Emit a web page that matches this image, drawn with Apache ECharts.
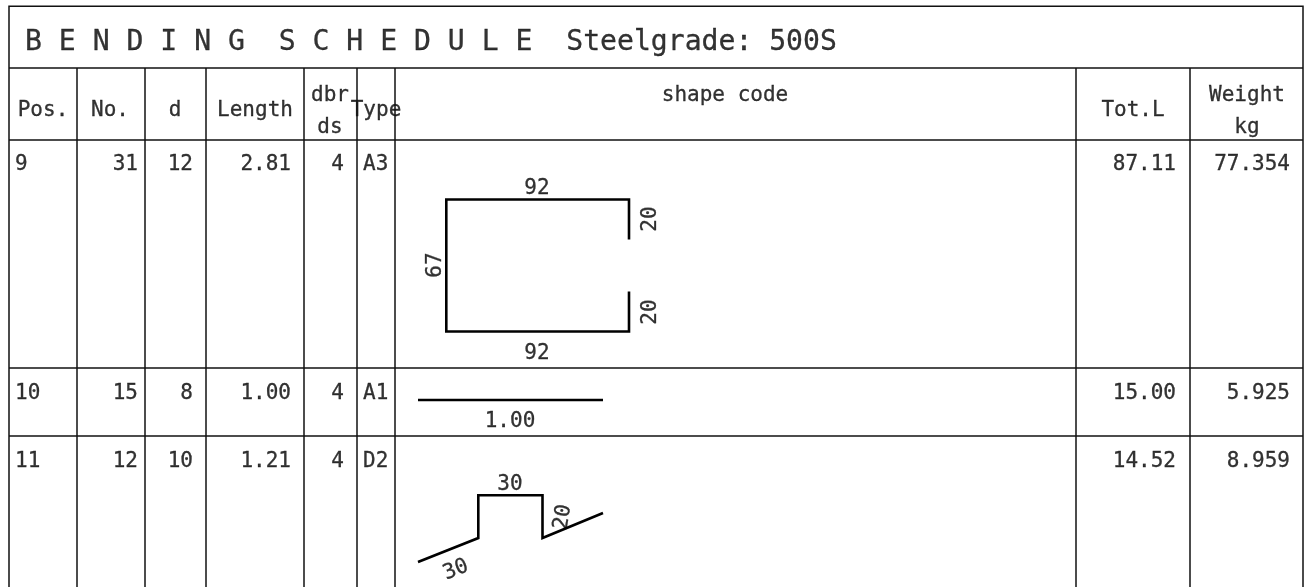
<!DOCTYPE html>
<html>
<head>
<meta charset="utf-8">
<title>Bending schedule</title>
<script src="https://cdn.jsdelivr.net/npm/echarts@6/dist/echarts.min.js"></script>
<style>
    html, body { margin: 0; padding: 0; background: #fff; }
    #chart { width: 1305px; height: 587px; }
</style>
</head>
<body>
<div id="chart"></div>
<script>
// table rules, in drawing units (1 unit = 1 px of the sheet)
const columnEdges = [77, 145, 206, 304, 357, 395, 1076, 1190];
const rowEdges = [68, 140, 368, 436];
const sheet = { left: 9, right: 1303, top: 6.25, bottom: 587 };

// [text, x, y, align]
const titleText = [['B E N D I N G  S C H E D U L E  Steelgrade: 500S', 25, 43, 'left']];
const headerText = [
    ['Pos.', 43, 111, 'center'], ['No.', 110, 111, 'center'], ['d', 175, 111, 'center'],
    ['Length', 255, 111, 'center'], ['dbr', 330, 96, 'center'], ['ds', 330, 128, 'center'],
    ['Type', 376, 111, 'center'], ['shape code', 725, 96, 'center'], ['Tot.L', 1133, 111, 'center'],
    ['Weight', 1247, 96, 'center'], ['kg', 1247, 128, 'center']
];

const rowY = [165, 394, 462];
const posValues = ['9', '10', '11'];
const noValues = ['31', '15', '12'];
const dValues = ['12', '8', '10'];
const lengthValues = ['2.81', '1.00', '1.21'];
const dbrValues = ['4', '4', '4'];
const typeValues = ['A3', 'A1', 'D2'];
const totalValues = ['87.11', '15.00', '14.52'];
const weightValues = ['77.354', '5.925', '8.959'];

// bent bar outlines
const shapeA3 = [
    [[629, 239.5], [629, 199.5], [446.3, 199.5], [446.3, 331.5], [629, 331.5], [629, 291.5]]
];
const shapeA1 = [
    [[418, 400], [603, 400]]
];
const shapeD2 = [
    [[418, 562], [478.3, 538], [478.3, 495.2], [542.5, 495.2], [542.5, 538], [603, 513]]
];

// [text, x, y, rotate]
const dimensionText = [
    ['92', 537, 189, 0], ['92', 537, 354, 0], ['20', 651, 219, 90], ['20', 651, 312, 90], ['67', 436, 265, 90],
    ['1.00', 510, 422, 0],
    ['30', 510, 485, 0], ['20', 563, 517, 80], ['30', 456, 570, 22]
];

const FONT = '"DejaVu Sans Mono", monospace';
const RULE = '#111';

function lineSeries(points, width, color) {
    return {
        type: 'line',
        data: points,
        showSymbol: false,
        silent: true,
        animation: false,
        clip: false,
        lineStyle: { width: width, color: color, cap: 'butt', join: 'miter' }
    };
}

function textSeries(rows, size) {
    return {
        type: 'scatter',
        symbolSize: 0,
        silent: true,
        animation: false,
        clip: false,
        data: rows.map(r => ({
            value: [r[1], r[2]],
            label: {
                show: true,
                position: 'inside',
                formatter: () => r[0],
                align: typeof r[3] === 'string' ? r[3] : 'center',
                verticalAlign: 'middle',
                rotate: typeof r[3] === 'number' ? r[3] : 0,
                fontFamily: FONT,
                fontSize: size,
                color: '#000',
                textBorderColor: '#000',
                textBorderWidth: 0.3
            }
        }))
    };
}

// body cells come from the column arrays
const bodyText = [];
rowY.forEach((y, i) => {
    bodyText.push([posValues[i], 15, y, 'left']);
    bodyText.push([noValues[i], 138, y, 'right']);
    bodyText.push([dValues[i], 193, y, 'right']);
    bodyText.push([lengthValues[i], 291, y, 'right']);
    bodyText.push([dbrValues[i], 344, y, 'right']);
    bodyText.push([typeValues[i], 363, y, 'left']);
    bodyText.push([totalValues[i], 1176, y, 'right']);
    bodyText.push([weightValues[i], 1290, y, 'right']);
});

const series = [];
series.push(lineSeries([[sheet.left, sheet.bottom], [sheet.left, sheet.top], [sheet.right, sheet.top], [sheet.right, sheet.bottom]], 1.5, RULE));
rowEdges.forEach(y => series.push(lineSeries([[sheet.left, y], [sheet.right, y]], 1.5, RULE)));
columnEdges.forEach(x => series.push(lineSeries([[x, rowEdges[0]], [x, sheet.bottom]], 1.5, RULE)));
[shapeA3, shapeA1, shapeD2].forEach(shape => {
    shape.forEach(path => series.push(lineSeries(path, 2.6, '#000')));
});
series.push(textSeries(titleText, 28.1));
series.push(textSeries(headerText, 21));
series.push(textSeries(bodyText, 21));
series.push(textSeries(dimensionText, 21));

const myChart = echarts.init(document.getElementById('chart'));
myChart.setOption({
    backgroundColor: '#fff',
    animation: false,
    grid: { left: 0, right: 0, top: 0, bottom: 0 },
    xAxis: { type: 'value', min: 0, max: 1305, show: false },
    yAxis: { type: 'value', min: 0, max: 587, inverse: true, show: false },
    series: series
});
</script>
</body>
</html>
